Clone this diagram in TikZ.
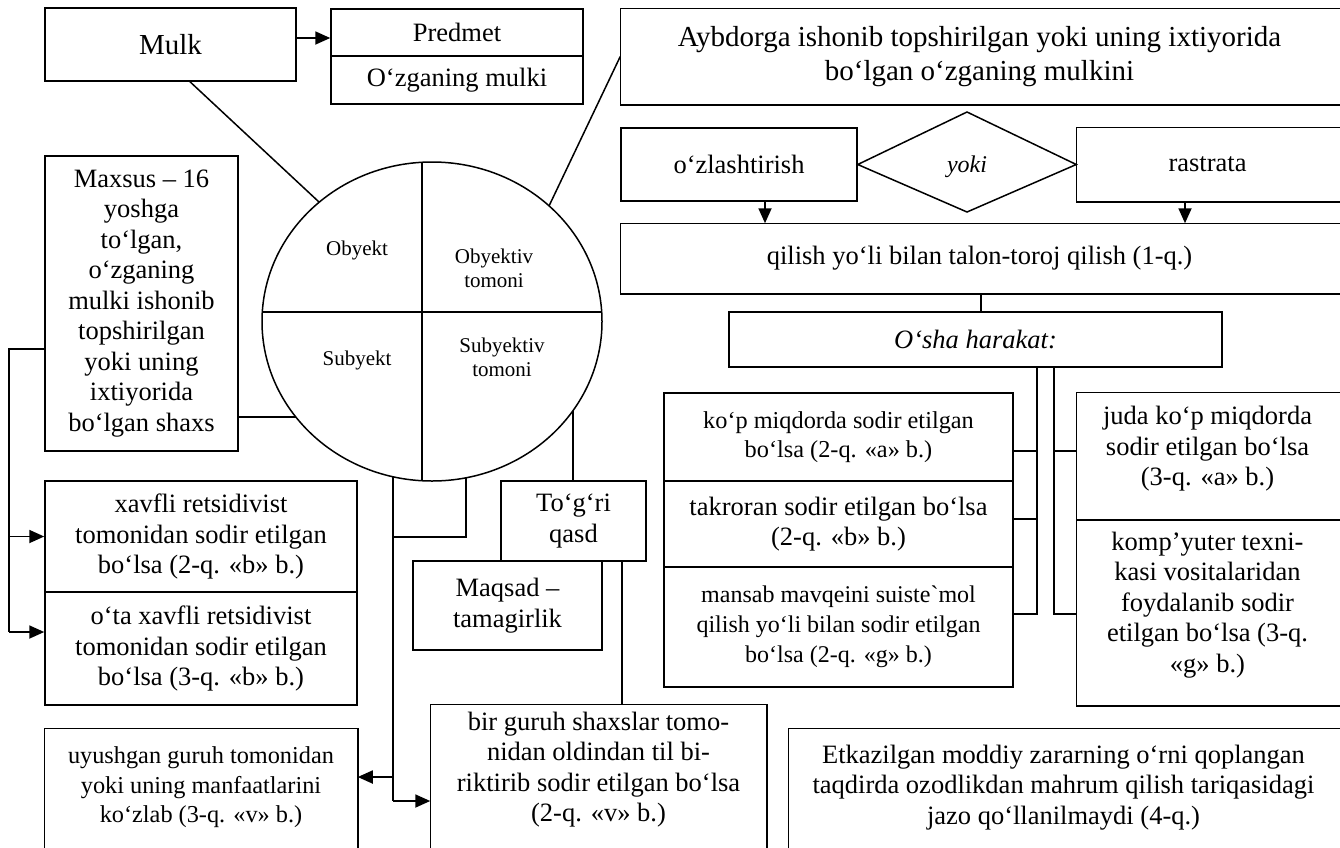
\documentclass[tikz,border=0pt]{standalone}
\usepackage{fontspec}
\setmainfont{Liberation Serif}
\newfontfamily\tnr{Liberation Serif}
\usetikzlibrary{arrows.meta,calc,shapes.geometric}
\newcommand\fs{\fontsize{26.5}{30.5}\selectfont}
\newcommand\fsn{\fontsize{24.3}{29.5}\selectfont}
\newcommand\fsb{\fontsize{29}{34}\selectfont}
\newcommand\fsc{\fontsize{21}{24}\selectfont}
% outline of a box cut by the right edge of the page
\newcommand\openR[1]{\draw[ln] ($(#1.north east)+(30,0)$) -- (#1.north west) -- (#1.south west) -- ($(#1.south east)+(30,0)$);}
% outline of a box cut by the bottom edge of the page
\newcommand\openB[1]{\draw[ln] ($(#1.south west)+(0,30)$) -- (#1.north west) -- (#1.north east) -- ($(#1.south east)+(0,30)$);}
\begin{document}
\begin{tikzpicture}[x=1pt,y=-1pt,
  bx/.style={draw, line width=1.5pt, inner sep=0pt, align=center, font=\fs},
  tx/.style={bx, draw=none},
  ln/.style={line width=1.5pt},
  arr/.style={line width=1.8pt, -{Triangle[length=15pt,width=13pt]}},
  ct/.style={align=center, font=\fsc, inner sep=0pt}]
\useasboundingbox (0,0) rectangle (1340,847);
% ---- top row
\node[bx, font=\fsb, minimum width=251pt, minimum height=73pt] (mulk) at (170.5,44.5) {Mulk};
\node[bx, minimum width=252pt, minimum height=47pt] (pred) at (457,32.5) {Predmet};
\node[bx, minimum width=252pt, minimum height=48pt] (ozg) at (457,80) {O‘zganing mulki};
\node[tx, font=\fsb, minimum width=717pt, minimum height=95pt] (ayb) at (979.5,56.5) {Aybdorga ishonib topshirilgan yoki uning ixtiyorida\\bo‘lgan o‘zganing mulkini};
\openR{ayb}
\node[bx, minimum width=236pt, minimum height=73pt] (ozl) at (739,164.5) {o‘zlashtirish};
\node[tx, minimum width=261pt, minimum height=73pt] (ras) at (1207.5,164.5) {rastrata};
\openR{ras}
\node[inner sep=0pt, font=\fontsize{24}{28}\selectfont] (yoki) at (967,167) {\textit{yoki}};
\coordinate (dT) at (967,112);
\coordinate (dB) at (967,212);
\draw[ln] (ozl.east) -- (dT) -- (ras.west) -- (dB) -- cycle;
\node[tx, minimum width=717pt, minimum height=69pt] (qil) at (979.5,258.5) {\raisebox{3pt}{qilish yo‘li bilan talon-toroj qilish (1-q.)}};
\openR{qil}
\node[bx, minimum width=493pt, minimum height=55pt] (osha) at (975.5,339.5) {\textit{O‘sha harakat:}};
% ---- right columns
\node[bx, font=\fsn, minimum width=349pt, minimum height=88pt] (kop) at (838.5,437) {ko‘p miqdorda sodir etilgan\\bo‘lsa (2-q. «a» b.)};
\node[bx, minimum width=349pt, minimum height=86pt] (takr) at (838.5,524) {takroran sodir etilgan bo‘lsa\\(2-q. «b» b.)};
\node[bx, font=\fontsize{24}{30}\selectfont, minimum width=349pt, minimum height=120pt] (mans) at (838.5,627) {mansab mavqeini suiste{\tnr `}mol\\qilish yo‘li bilan sodir etilgan\\bo‘lsa (2-q. «g» b.)};
\node[tx, minimum width=261pt, minimum height=112pt] (juda) at (1207.5,449) {juda ko‘p miqdorda\\sodir etilgan bo‘lsa\\(3-q. «a» b.)};
\draw[ln] ($(juda.north east)+(30,0)$) -- (juda.north west) -- ($(juda.south west)+(0,14)$) -- ++(300,0);
\node[tx, minimum width=261pt, minimum height=172pt] (komp) at (1207.5,605) {komp’yuter texni-\\kasi vositalaridan\\foydalanib sodir\\etilgan bo‘lsa (3-q.\\«g» b.)};
\draw[ln] (komp.north west) -- ($(komp.south west)+(0,14)$) -- ++(300,0);
\node[tx, minimum width=549pt, minimum height=117pt] (etk) at (1063.5,787.5) {Etkazilgan moddiy zararning o‘rni qoplangan\\taqdirda ozodlikdan mahrum qilish tariqasidagi\\jazo qo‘llanilmaydi (4-q.)};
\draw[ln] ($(etk.north east)+(30,0)$) -- (etk.north west) -- ($(etk.south west)+(0,30)$);
% ---- left side
\node[bx, minimum width=193pt, minimum height=295pt] (maxs) at (141.5,303.5) {Maxsus – 16\\yoshga\\to‘lgan,\\o‘zganing\\mulki ishonib\\topshirilgan\\yoki uning\\ixtiyorida\\bo‘lgan shaxs};
\node[bx, minimum width=312pt, minimum height=111pt] (xavf) at (201,536.5) {xavfli retsidivist\\tomonidan sodir etilgan\\bo‘lsa (2-q. «b» b.)};
\node[bx, minimum width=312pt, minimum height=113pt] (ota) at (201,648.5) {o‘ta xavfli retsidivist\\tomonidan sodir etilgan\\bo‘lsa (3-q. «b» b.)};
\node[tx, font=\fsn, minimum width=312pt, minimum height=117pt] (uyu) at (201,787.5) {uyushgan guruh tomonidan\\yoki uning manfaatlarini\\ko‘zlab (3-q. «v» b.)};
\openB{uyu}
\node[bx, minimum width=145pt, minimum height=80pt] (togri) at (573.5,521) {To‘g‘ri\\qasd};
\node[bx, minimum width=189pt, minimum height=89pt] (maqs) at (507.5,605.5) {Maqsad –\\tamagirlik};
\node[tx, minimum width=335pt, minimum height=129pt] (bir) at (598.5,769.5) {bir guruh shaxslar tomo-\\nidan oldindan til bi-\\riktirib sodir etilgan bo‘lsa\\(2-q. «v» b.)};
\openB{bir}
% ---- circle
\node[ellipse, draw, line width=1.5pt, inner sep=0pt, minimum width=340pt, minimum height=319pt] (circ) at (432,321.5) {};
\draw[ln] (422,162.3) -- (422,480.7);
\draw[ln] (262.3,312) -- (601.7,312);
\node[ct] (obj) at (357,250) {Obyekt};
\node[ct] (objt) at (494,268) {Obyektiv\\tomoni};
\node[ct] (sub) at (357,360) {Subyekt};
\node[ct] (subt) at (502,357) {Subyektiv\\tomoni};
% ---- contact points on the circle
\coordinate (cMulk) at (319,202);
\coordinate (cAyb) at (549,206);
\coordinate (cMx) at (296,417);
\coordinate (c393) at (393,476.7);
\coordinate (c466) at (466,477.8);
\coordinate (c573) at (573,410.6);
% ---- connectors
\coordinate (hMulk) at (0,38);
\draw[arr] (mulk.east |- hMulk) -- (pred.west |- hMulk);
\draw[ln] ($(mulk.south)+(19.5,0)$) -- (cMulk);
\draw[ln] (ayb.west) -- (cAyb);
\draw[ln] (maxs.east |- cMx) -- (cMx);
\coordinate (A1) at (765,0);
\coordinate (A2) at (1185,0);
\coordinate (A3) at (981,0);
\draw[arr] (ozl.south -| A1) -- (qil.north -| A1);
\draw[arr] (ras.south -| A2) -- (qil.north -| A2);
\draw[ln] (qil.south -| A3) -- (osha.north -| A3);
\coordinate (R1) at (1037,0);
\coordinate (R2) at (1054,0);
\coordinate (S1) at (0,451);
\coordinate (S2) at (0,519);
\coordinate (S3) at (0,614);
\draw[ln] (osha.south -| R1) -- (R1 |- S3) -- (mans.east |- S3);
\draw[ln] (R1 |- S1) -- (kop.east |- S1);
\draw[ln] (R1 |- S2) -- (takr.east |- S2);
\draw[ln] (osha.south -| R2) -- (R2 |- S3) -- (komp.west |- S3);
\draw[ln] (R2 |- S1) -- (juda.west |- S1);
% far left bracket
\coordinate (L1) at (9,349);
\coordinate (L2) at (9,632);
\draw[ln] (maxs.west |- L1) -- (L1) -- (L2);
\draw[arr] (xavf.west -| L1) -- (xavf.west);
\draw[arr] (L2) -- (ota.west |- L2);
% below circle
\coordinate (B1) at (393,777);
\coordinate (B2) at (393,801);
\coordinate (J1) at (466,537);
\coordinate (J2) at (393,537);
\draw[ln] (c393) -- (B2);
\draw[ln] (c466) -- (J1) -- (J2);
\draw[arr] (B1) -- (uyu.east |- B1);
\draw[arr] (B2) -- (bir.west |- B2);
\draw[ln] (c573) -- (togri.north -| c573);
\coordinate (B3) at (622,0);
\draw[ln] (togri.south -| B3) -- (bir.north -| B3);
\end{tikzpicture}
\end{document}
